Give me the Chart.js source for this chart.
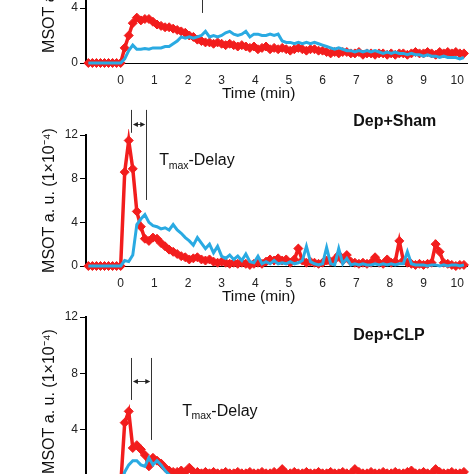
<!DOCTYPE html>
<html>
<head>
<meta charset="utf-8">
<script src="https://cdn.jsdelivr.net/npm/chart.js@4.4.0/dist/chart.umd.min.js"></script>
<style>
html, body { margin: 0; padding: 0; background: #fff; }
body { width: 474px; height: 474px; position: relative; overflow: hidden; }
canvas { position: absolute; left: 0; }
</style>
</head>
<body>
<canvas id="c1" width="474" height="235" style="top:-130px"></canvas>
<canvas id="c2" width="474" height="202" style="top:106px"></canvas>
<canvas id="c3" width="474" height="238" style="top:290px"></canvas>
<script>
// time axis (min), shared by the three panels
const timeMin = [-0.96,-0.84,-0.72,-0.60,-0.48,-0.36,-0.24,-0.12,0,0.12,
  0.24,0.36,0.48,0.60,0.72,0.84,0.96,1.08,1.20,1.32,
  1.44,1.56,1.68,1.80,1.92,2.04,2.16,2.28,2.40,2.52,
  2.64,2.76,2.88,3.00,3.12,3.24,3.36,3.48,3.60,3.72,
  3.84,3.96,4.08,4.20,4.32,4.44,4.56,4.68,4.80,4.92,
  5.04,5.16,5.28,5.40,5.52,5.64,5.76,5.88,6.00,6.12,
  6.24,6.36,6.48,6.60,6.72,6.84,6.96,7.08,7.20,7.32,
  7.44,7.56,7.68,7.80,7.92,8.04,8.16,8.28,8.40,8.52,
  8.64,8.76,8.88,9.00,9.12,9.24,9.36,9.48,9.60,9.72,
  9.84,9.96,10.08,10.20];
const xTicks = [0,1,2,3,4,5,6,7,8,9,10];
const yTicks = [0,4,8,12];

// top panel (cropped)
const p1Red = [0,0,0,0,0,0,0,0,0,1.1,
  2.0,2.9,3.3,3.1,3.2,3.2,3.0,2.8,2.7,2.6,
  2.6,2.5,2.4,2.3,2.2,2.0,1.9,1.7,1.6,1.5,
  1.5,1.4,1.5,1.4,1.3,1.4,1.3,1.2,1.3,1.2,
  1.1,1.2,1.0,1.1,1.2,1.0,1.1,1.0,1.1,1.0,
  0.9,1.0,1.1,1.0,0.9,1.0,1.0,0.9,0.9,0.8,
  0.7,0.8,0.7,0.8,0.8,0.7,0.7,0.8,0.6,0.7,
  0.7,0.6,0.7,0.7,0.6,0.7,0.6,0.7,0.7,0.6,
  0.7,0.8,0.7,0.7,0.8,0.7,0.6,0.8,0.7,0.8,
  0.7,0.8,0.7,0.7];
const p1Blue = [0,0,0,0,0,0,0,0,0,0.3,
  0.9,1.3,1.0,1.0,1.05,1.0,1.1,1.1,1.1,1.2,
  1.2,1.4,1.6,1.9,1.8,1.9,1.8,1.9,2.0,2.3,
  1.9,2.0,1.9,2.0,2.2,2.3,2.1,2.0,2.1,2.3,
  1.9,2.1,2.1,2.0,2.0,2.1,2.0,2.1,1.6,1.5,
  1.5,1.4,1.5,1.4,1.5,1.4,1.5,1.4,1.3,1.2,
  1.1,1.0,1.1,1.0,0.9,0.9,0.8,0.9,0.8,0.9,
  0.8,0.9,0.8,0.7,0.8,0.7,0.8,0.7,0.7,0.6,
  0.7,0.6,0.6,0.5,0.6,0.5,0.5,0.4,0.5,0.4,
  0.4,0.4,0.3,0.4];

// Dep+Sham
const p2Red = [0,0,0,0,0,0,0,0,0,8.6,
  11.5,8.9,5.0,3.6,2.5,2.3,2.6,2.5,2.1,1.8,
  1.5,1.3,1.1,0.9,0.8,0.6,0.7,0.8,0.6,0.5,
  0.6,0.4,0.3,0.4,0.3,0.2,0.3,0.2,0.3,0.2,
  0.1,0.2,0.3,0.2,0.4,0.6,0.5,0.7,0.5,0.6,
  0.3,0.6,1.6,0.5,0.3,0.4,0.3,0.2,0.3,0.5,
  0.4,0.6,1.0,0.5,1.0,0.4,0.3,0.2,0.3,0.2,
  0.3,0.8,0.3,0.2,0.6,0.3,0.4,2.3,0.5,0.3,
  0.2,0.1,0.2,0.1,0.2,0.3,2.0,1.3,0.3,0.2,
  0.1,0.0,0.1,0.1];
const p2Blue = [0,0,0,0,0,0,0,0,0,0.5,
  0.4,1.0,3.8,4.3,4.7,4.0,3.7,3.6,3.4,3.5,
  3.3,3.8,3.3,3.0,2.6,2.3,1.9,2.6,2.1,1.6,
  2.0,1.2,1.8,0.9,0.7,1.0,0.6,0.9,0.5,1.1,
  0.4,0.3,0.9,0.2,0.4,0.2,0.5,0.2,0.3,0.2,
  0.4,0.2,0.3,0.5,1.8,0.4,0.2,0.1,0.2,1.7,
  0.2,0.1,1.6,0.2,0.7,0.1,0.2,0.1,0.2,0.1,
  0.1,0.2,0.1,0.2,0.1,0.2,0.1,0.2,0.2,1.3,
  0.2,0.1,0.1,0.1,0.0,0.1,0.1,0.0,0.1,0.0,
  0.1,0.1,0.0,0.1];

// Dep+CLP (cropped at the bottom)
const p3Red = [0,0,0,0,0,0,0,0,0,4.5,
  5.3,2.7,2.9,2.6,2.2,1.4,2.0,1.8,1.6,1.3,
  1.1,1.0,1.0,1.1,1.0,1.3,1.0,1.0,0.9,1.0,
  0.9,1.0,0.9,0.9,1.0,0.9,0.9,1.0,0.9,0.9,
  1.0,0.9,0.9,1.0,0.9,0.9,1.0,0.9,1.2,0.9,
  0.9,1.0,0.9,0.9,1.0,0.9,0.9,1.0,0.9,0.9,
  1.0,0.9,0.9,1.0,0.9,0.9,1.2,1.0,0.9,0.9,
  1.0,0.9,0.9,1.0,0.9,0.9,1.0,0.9,0.9,1.0,
  1.1,0.9,0.9,1.0,0.9,0.9,1.2,1.0,0.9,0.9,
  1.0,0.9,0.9,1.0];
const p3Blue = [0,0,0,0,0,0,0,0,0,1.0,
  1.5,1.8,1.8,1.5,1.4,2.0,1.5,1.8,1.5,1.1,
  0.8,0.6,0.5,0.5,0.4,0.5,0.4,0.4,0.3,0.4,
  0.3,0.4,0.3,0.3,0.4,0.3,0.3,0.3,0.4,0.3,
  0.3,0.3,0.4,0.3,0.3,0.3,0.3,0.4,0.3,0.3,
  0.3,0.3,0.3,0.4,0.3,0.3,0.3,0.3,0.3,0.4,
  0.3,0.3,0.3,0.3,0.4,0.3,0.3,0.3,0.3,0.3,
  0.3,0.3,0.4,0.3,0.3,0.3,0.3,0.3,0.3,0.3,
  0.3,0.3,0.3,0.3,0.3,0.3,0.3,0.3,0.3,0.3,
  0.3,0.3,0.3,0.3];

const RED = '#f21d1d';
const BLUE = '#2aaae2';
const FONT = '"Liberation Sans", Arial, sans-serif';

// lines, arrow and labels drawn in data units
const panelMarks = {
  id: 'panelMarks',
  afterDraw(chart, args, opts) {
    const { ctx, chartArea } = chart;
    const x = chart.scales.x, y = chart.scales.y;
    ctx.save();
    ctx.strokeStyle = '#333';
    ctx.fillStyle = '#222';
    ctx.lineWidth = 1;
    (opts.lines || []).forEach(l => {
      const px = Math.round(x.getPixelForValue(l.t)) + 0.5;
      ctx.beginPath();
      ctx.moveTo(px, y.getPixelForValue(l.from));
      ctx.lineTo(px, y.getPixelForValue(l.to));
      ctx.stroke();
    });
    if (opts.arrow) {
      const a = opts.arrow;
      const x1 = x.getPixelForValue(a.t1) + 1.5, x2 = x.getPixelForValue(a.t2) - 1;
      const py = Math.round(y.getPixelForValue(a.v)) + 0.5;
      ctx.beginPath(); ctx.moveTo(x1 + 3, py); ctx.lineTo(x2 - 3, py); ctx.stroke();
      ctx.beginPath();
      ctx.moveTo(x1, py); ctx.lineTo(x1 + 5, py - 2.5); ctx.lineTo(x1 + 5, py + 2.5); ctx.closePath();
      ctx.moveTo(x2, py); ctx.lineTo(x2 - 5, py - 2.5); ctx.lineTo(x2 - 5, py + 2.5); ctx.closePath();
      ctx.fill();
    }
    ctx.fillStyle = '#111';
    ctx.textBaseline = 'alphabetic';
    ctx.textAlign = 'left';
    if (opts.group) {
      ctx.font = 'bold 16px ' + FONT;
      ctx.fillText(opts.group.text, x.getPixelForValue(opts.group.t), y.getPixelForValue(opts.group.v));
    }
    if (opts.tmax) {
      let px = x.getPixelForValue(opts.tmax.t);
      const py = y.getPixelForValue(opts.tmax.v);
      ctx.font = '16px ' + FONT;
      ctx.fillText('T', px, py); px += ctx.measureText('T').width - 0.5;
      ctx.font = '10.5px ' + FONT;
      ctx.fillText('max', px, py + 3.5); px += ctx.measureText('max').width;
      ctx.font = '16px ' + FONT;
      ctx.fillText('-Delay', px, py);
    }
    if (opts.xTitle) {
      ctx.font = '15.5px ' + FONT;
      ctx.textAlign = 'center';
      ctx.textBaseline = 'middle';
      ctx.fillText('Time (min)', x.getPixelForValue(4.1), chartArea.bottom + 31);
    }
    ctx.restore();
  }
};

function makePanel(id, padTop, red, blue, marks) {
  return new Chart(document.getElementById(id), {
    type: 'line',
    data: {
      datasets: [
        {
          label: 'blue',
          data: timeMin.map((t, i) => ({ x: t, y: blue[i] })),
          borderColor: BLUE,
          borderWidth: 3,
          pointRadius: 0,
          tension: 0,
          clip: 6
        },
        {
          label: 'red',
          data: timeMin.map((t, i) => ({ x: t, y: red[i] })),
          borderColor: RED,
          backgroundColor: RED,
          borderWidth: 3.5,
          pointStyle: 'rectRot',
          pointRadius: 4.5,
          pointBorderWidth: 1,
          pointBackgroundColor: RED,
          pointBorderColor: RED,
          tension: 0,
          clip: 6
        }
      ]
    },
    options: {
      responsive: false,
      animation: false,
      events: [],
      layout: { padding: { top: padTop, left: 36, right: 4, bottom: 0 } },
      plugins: {
        legend: { display: false },
        tooltip: { enabled: false },
        panelMarks: marks
      },
      scales: {
        x: {
          type: 'linear',
          min: -1.03,
          max: 10.3,
          afterBuildTicks: s => { s.ticks = xTicks.map(v => ({ value: v })); },
          afterFit: s => { s.height = 42; },
          grid: { display: false, drawTicks: false },
          border: { display: true, color: '#000', width: 1 },
          ticks: { color: '#222', font: { family: FONT, size: 12 }, padding: 10, maxRotation: 0 }
        },
        y: {
          min: 0,
          max: 12,
          afterBuildTicks: s => { s.ticks = yTicks.map(v => ({ value: v })); },
          afterFit: s => { s.width = 50; },
          grid: { display: true, drawOnChartArea: false, drawTicks: true, tickLength: 6, color: '#000', lineWidth: 1 },
          border: { display: true, color: '#000', width: 2 },
          ticks: { color: '#222', font: { family: FONT, size: 12 }, padding: 2 },
          title: { display: true, text: 'MSOT a. u. (1×10⁻⁴)', color: '#111', font: { family: FONT, size: 16 } }
        }
      }
    },
    plugins: [panelMarks]
  });
}

makePanel('c1', 28, p1Red, p1Blue, {
  lines: [{ t: 2.42, from: 14, to: 3.64 }],
  xTitle: true
});
makePanel('c2', 29, p2Red, p2Blue, {
  lines: [{ t: 0.32, from: 14.3, to: 12.2 }, { t: 0.76, from: 14.3, to: 6.05 }],
  arrow: { t1: 0.32, t2: 0.76, v: 13.0 },
  group: { text: 'Dep+Sham', t: 6.91, v: 12.82 },
  tmax: { t: 1.15, v: 9.25 },
  xTitle: true
});
makePanel('c3', 27, p3Red, p3Blue, {
  lines: [{ t: 0.32, from: 9.09, to: 6.11 }, { t: 0.91, from: 9.09, to: 3.27 }],
  arrow: { t1: 0.32, t2: 0.91, v: 7.46 },
  group: { text: 'Dep+CLP', t: 6.91, v: 10.37 },
  tmax: { t: 1.83, v: 5.0 },
  xTitle: true
});
</script>
</body>
</html>
